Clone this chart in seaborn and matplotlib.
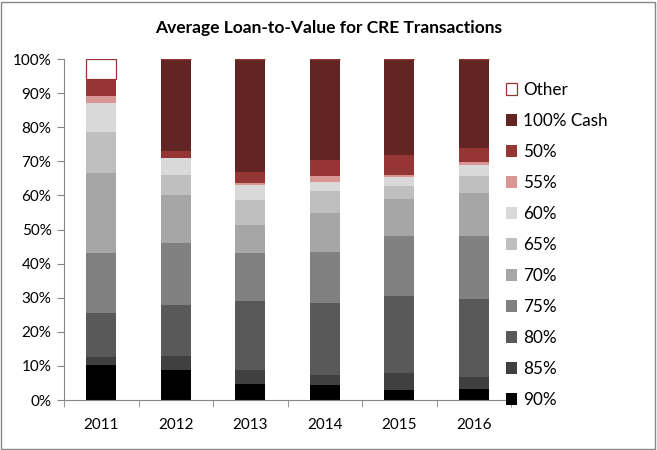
import numpy as np
import pandas as pd
import matplotlib
matplotlib.use("Agg")
import matplotlib.pyplot as plt
import matplotlib.patches as mpatches
import seaborn as sns

# ------------------------------------------------------------
# Data (share of transactions, %)
# ------------------------------------------------------------
years = ["2011", "2012", "2013", "2014", "2015", "2016"]

ltv_90 = [10.3, 8.8, 4.7, 4.4, 2.9, 3.2]
ltv_85 = [2.3, 4.1, 4.1, 2.9, 5.0, 3.5]
ltv_80 = [12.9, 15.0, 20.2, 21.1, 22.6, 22.9]
ltv_75 = [17.6, 18.1, 14.1, 15.0, 17.6, 18.5]
ltv_70 = [23.5, 14.1, 8.2, 11.4, 10.8, 12.6]
ltv_65 = [12.0, 5.9, 7.4, 6.5, 3.9, 5.0]
ltv_60 = [8.5, 5.0, 4.3, 2.6, 2.6, 3.2]
ltv_55 = [2.0, 0.0, 0.6, 1.8, 0.6, 0.9]
ltv_50 = [5.0, 2.0, 3.3, 4.7, 5.8, 4.1]
cash_100 = [0.0, 27.0, 33.1, 29.6, 28.2, 26.1]
other = [5.9, 0.0, 0.0, 0.0, 0.0, 0.0]

segments = ["90%", "85%", "80%", "75%", "70%", "65%", "60%", "55%", "50%",
            "100% Cash", "Other"]
values = [ltv_90, ltv_85, ltv_80, ltv_75, ltv_70, ltv_65, ltv_60, ltv_55,
          ltv_50, cash_100, other]
colors = ["#000000", "#404040", "#595959", "#808080", "#a6a6a6", "#bfbfbf",
          "#d9d9d9", "#da9694", "#963634", "#632523", "#ffffff"]

df = pd.DataFrame(dict(zip(segments, values)), index=years)

plt.rcParams["font.family"] = ["Lato", "DejaVu Sans"]

fig = plt.figure(figsize=(6.57, 4.5), dpi=100)
ax = fig.add_axes([64 / 657, 50 / 450, 447 / 657, 341 / 450])

bottom = np.zeros(len(years))
for seg, col in zip(segments, colors):
    h = df[seg].to_numpy()
    if seg == "Other":
        sns.barplot(x=years, y=h, bottom=bottom, color=col, saturation=1,
                    width=0.4, edgecolor="#963634", linewidth=0.9, ax=ax)
    else:
        sns.barplot(x=years, y=h, bottom=bottom, color=col, saturation=1,
                    width=0.4, linewidth=0, ax=ax)
    bottom = bottom + h

ax.set_xlim(-0.5, 5.5)
ax.set_ylim(0, 100)
ax.set_yticks(np.arange(0, 101, 10))
ax.set_yticklabels([f"{v}%" for v in range(0, 101, 10)])
ax.set_xticks(np.arange(-0.5, 5.6, 1), minor=True)
ax.tick_params(axis="x", which="major", length=0, pad=13, labelsize=11)
ax.tick_params(axis="x", which="minor", length=5, color="#868686")
ax.tick_params(axis="y", length=5, color="#868686", labelsize=11, pad=4)
for s in ["top", "right"]:
    ax.spines[s].set_visible(False)
for s in ["left", "bottom"]:
    ax.spines[s].set_color("#868686")
ax.set_xlabel("")
ax.set_ylabel("")

fig.text(0.5, 1 - 28 / 450, "Average Loan-to-Value for CRE Transactions",
         ha="center", va="center", fontsize=12.5, fontweight="bold")

handles = []
for seg, col in zip(segments[::-1], colors[::-1]):
    if seg == "Other":
        handles.append(mpatches.Patch(facecolor=col, edgecolor="#963634",
                                      linewidth=0.9, label=seg))
    else:
        handles.append(mpatches.Patch(facecolor=col, label=seg))
fig.legend(handles=handles, loc="upper left",
           bbox_to_anchor=(499 / 657, 1 - 75 / 450), frameon=False,
           fontsize=12.3, handlelength=0.65, handleheight=0.65,
           handletextpad=0.35, labelspacing=0.88, borderaxespad=0)

fig.patches.append(mpatches.Rectangle((1 / 657, 1 / 450), 654 / 657, 447 / 450,
                                      transform=fig.transFigure, fill=False,
                                      edgecolor="#868686", linewidth=1.0))

fig.savefig("out.png", dpi=100)
